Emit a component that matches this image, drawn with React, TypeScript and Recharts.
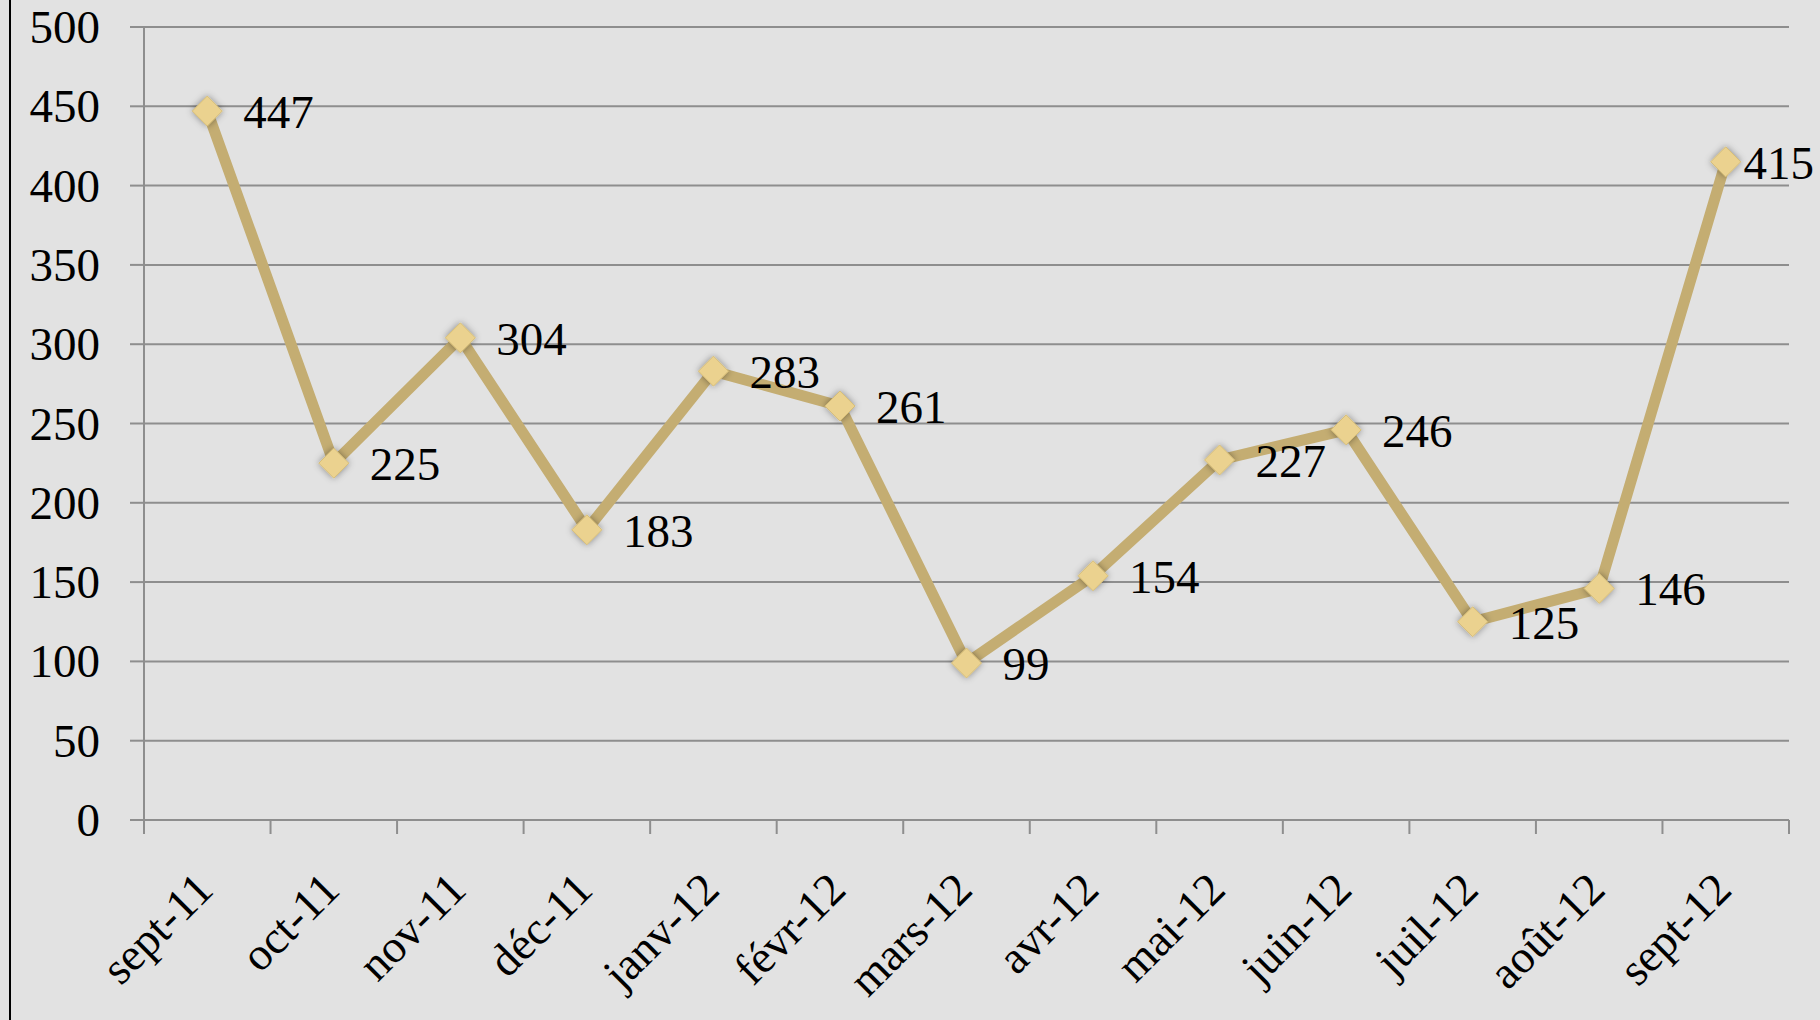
import { LineChart, Line, XAxis, YAxis, CartesianGrid, LabelList } from "recharts";

const months = [
  "sept-11", "oct-11", "nov-11", "déc-11", "janv-12", "févr-12", "mars-12",
  "avr-12", "mai-12", "juin-12", "juil-12", "août-12", "sept-12",
];
const counts = [447, 225, 304, 183, 283, 261, 99, 154, 227, 246, 125, 146, 415];
const yTicks = [0, 50, 100, 150, 200, 250, 300, 350, 400, 450, 500];

const data = months.map((m, i) => ({ month: m, count: counts[i] }));

const W = 1820;
const H = 1020;
const LEFT = 144;
const RIGHT_MARGIN = 31;
const STEP = (W - LEFT - RIGHT_MARGIN) / months.length;
const GRID = "#8e8e8e";
const FONT = "'Liberation Serif', 'DejaVu Serif', serif";

const ValueTick = (props: any) => {
  const { x, y, payload } = props;
  return (
    <text x={x} y={y + 16} textAnchor="end" fontSize={47} fontFamily={FONT} fill="#000">
      {payload.value}
    </text>
  );
};

const MonthTick = (props: any) => {
  const { x, y, payload, index } = props;
  const half = STEP / 2;
  const tx = x + 8;
  const ty = y + 72;
  return (
    <g>
      <line x1={x - half} x2={x - half} y1={y} y2={y + 14} stroke={GRID} strokeWidth={2} />
      {index === months.length - 1 && (
        <line x1={x + half} x2={x + half} y1={y} y2={y + 14} stroke={GRID} strokeWidth={2} />
      )}
      <text
        x={tx}
        y={ty}
        transform={`rotate(-45 ${tx} ${ty})`}
        textAnchor="end"
        fontSize={46}
        fontFamily={FONT}
        fill="#000"
      >
        {payload.value}
      </text>
    </g>
  );
};

const Diamond = (props: any) => {
  const { cx, cy } = props;
  if (cx == null || cy == null) return null;
  const r = 15;
  return (
    <polygon
      points={`${cx},${cy - r} ${cx + r},${cy} ${cx},${cy + r} ${cx - r},${cy}`}
      fill="#ebd28f"
      stroke="#d6bd78"
      strokeWidth={1}
      filter="url(#dotShadow)"
    />
  );
};

const ValueLabel = (props: any) => {
  const { x, y, value } = props;
  let lx = x + 36;
  let anchor: "start" | "end" = "start";
  if (lx + 72 > W - 6) {
    lx = W - 6;
    anchor = "end";
  }
  return (
    <text x={lx} y={y + 17} textAnchor={anchor} fontSize={47} fontFamily={FONT} fill="#000">
      {value}
    </text>
  );
};

export default function App() {
  return (
    <div
      style={{
        position: "absolute",
        left: 0,
        top: 0,
        width: W,
        height: H,
        background: "#e2e2e2",
        overflow: "hidden",
      }}
    >
      <svg width={0} height={0} style={{ position: "absolute" }}>
        <defs>
          <filter id="dotShadow" x="-60%" y="-60%" width="220%" height="220%">
            <feDropShadow dx="0" dy="0" stdDeviation="3.5" floodColor="#000" floodOpacity="0.4" />
          </filter>
        </defs>
      </svg>
      <div style={{ position: "absolute", left: 9, top: 0, width: 2, height: H, background: "#000" }} />
      <LineChart
        width={W}
        height={H}
        data={data}
        margin={{ top: 27, right: RIGHT_MARGIN, left: 0, bottom: 0 }}
      >
        <CartesianGrid vertical={false} stroke={GRID} strokeWidth={2} />
        <XAxis
          dataKey="month"
          height={200}
          interval={0}
          padding={{ left: STEP / 2, right: STEP / 2 }}
          axisLine={{ stroke: GRID, strokeWidth: 2 }}
          tickLine={false}
          tickSize={0}
          tickMargin={0}
          tick={<MonthTick />}
        />
        <YAxis
          width={LEFT}
          domain={[0, 500]}
          ticks={yTicks}
          interval={0}
          axisLine={{ stroke: GRID, strokeWidth: 2 }}
          tickLine={{ stroke: GRID, strokeWidth: 2 }}
          tickSize={14}
          tickMargin={30}
          tick={<ValueTick />}
        />
        <Line
          dataKey="count"
          stroke="#c4ad72"
          strokeWidth={11}
          strokeLinejoin="miter"
          dot={<Diamond />}
          activeDot={false}
          isAnimationActive={false}
        >
          <LabelList dataKey="count" content={<ValueLabel />} />
        </Line>
      </LineChart>
    </div>
  );
}
